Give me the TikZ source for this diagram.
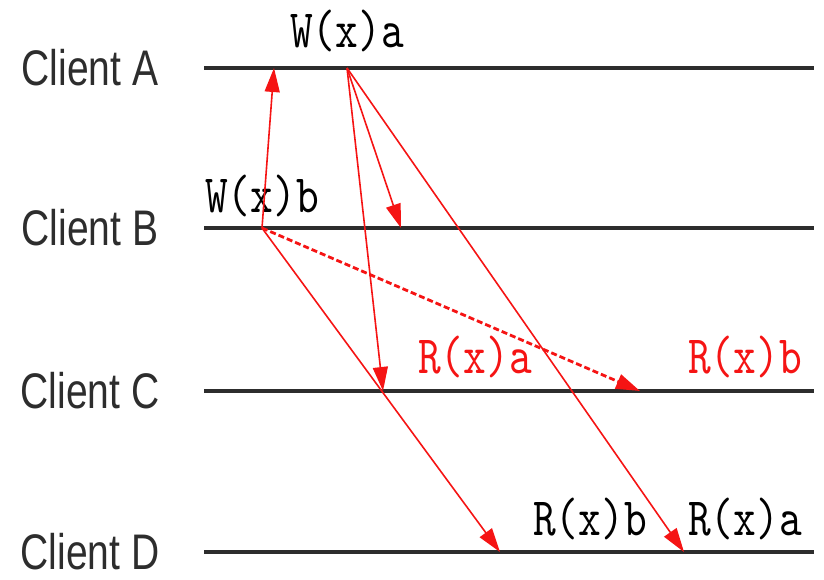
\documentclass[tikz,border=0pt]{standalone}
\usepackage{fontspec}
\usepackage{tikz}
\usetikzlibrary{arrows.meta, positioning}
\newfontfamily\clientfont[FakeStretch=0.78]{Liberation Sans}
\newfontfamily\opfont{lmmono10-regular}[Extension=.otf, FakeStretch=0.8]
\definecolor{msgred}{RGB}{245, 20, 20}
\definecolor{lanegray}{RGB}{45, 45, 45}

\begin{document}
\begin{tikzpicture}[
    x=0.5pt, y=-0.5pt,
    client/.style={font=\clientfont\fontsize{25}{30}\selectfont, text=lanegray},
    op/.style={font=\opfont\fontsize{27}{32}\selectfont, inner sep=2pt, anchor=base},
    lane/.style={draw=lanegray, line width=1.6pt},
    msg/.style={-{Triangle[length=12pt, width=7.5pt]}, draw=msgred, line width=0.8pt},
    msgdash/.style={msg, dash pattern=on 3pt off 1.5pt, line width=1.4pt}
]
\useasboundingbox (0,0) rectangle (824,579);

% Clients and their time lines
\node[client] (clA) at (90,68) {Client A};
\node[client] (clB) at (90,228) {Client B};
\node[client] (clC) at (90,391) {Client C};
\node[client] (clD) at (90,552) {Client D};

\coordinate (A0) at (204,68);  \coordinate (A1) at (814,68);
\coordinate (B0) at (204,228); \coordinate (B1) at (814,228);
\coordinate (C0) at (204,391); \coordinate (C1) at (814,391);
\coordinate (D0) at (204,552); \coordinate (D1) at (814,552);

\draw[lane] (A0) -- (A1);
\draw[lane] (B0) -- (B1);
\draw[lane] (C0) -- (C1);
\draw[lane] (D0) -- (D1);

% Events
\coordinate (wa) at (347,68);
\coordinate (wb) at (262,228);
\coordinate (bA) at (274,68);
\coordinate (aB) at (401,228);
\coordinate (aC) at (383,391);
\coordinate (bC) at (640,391);
\coordinate (bD) at (500,552);
\coordinate (aD) at (684,552);

% Operations
\node[op] (wxa) at ([yshift=10.5pt]wa) {W(x)a};
\node[op] (wxb) at ([yshift=8pt]wb) {W(x)b};
\node[op, text=msgred] (rxaC) at (475,373) {R(x)a};
\node[op, text=msgred] (rxbC) at (745,373) {R(x)b};
\node[op] (rxbD) at (590,535) {R(x)b};
\node[op] (rxaD) at (745,535) {R(x)a};

% Messages
\draw[msg] (wb) -- (bA);
\draw[msg] (wa) -- (aB);
\draw[msg] (wa) -- (aC);
\draw[msg] (wa) -- (aD);
\draw[msgdash] (wb) -- (bC);
\draw[msg] (wb) -- (bD);
\end{tikzpicture}
\end{document}
